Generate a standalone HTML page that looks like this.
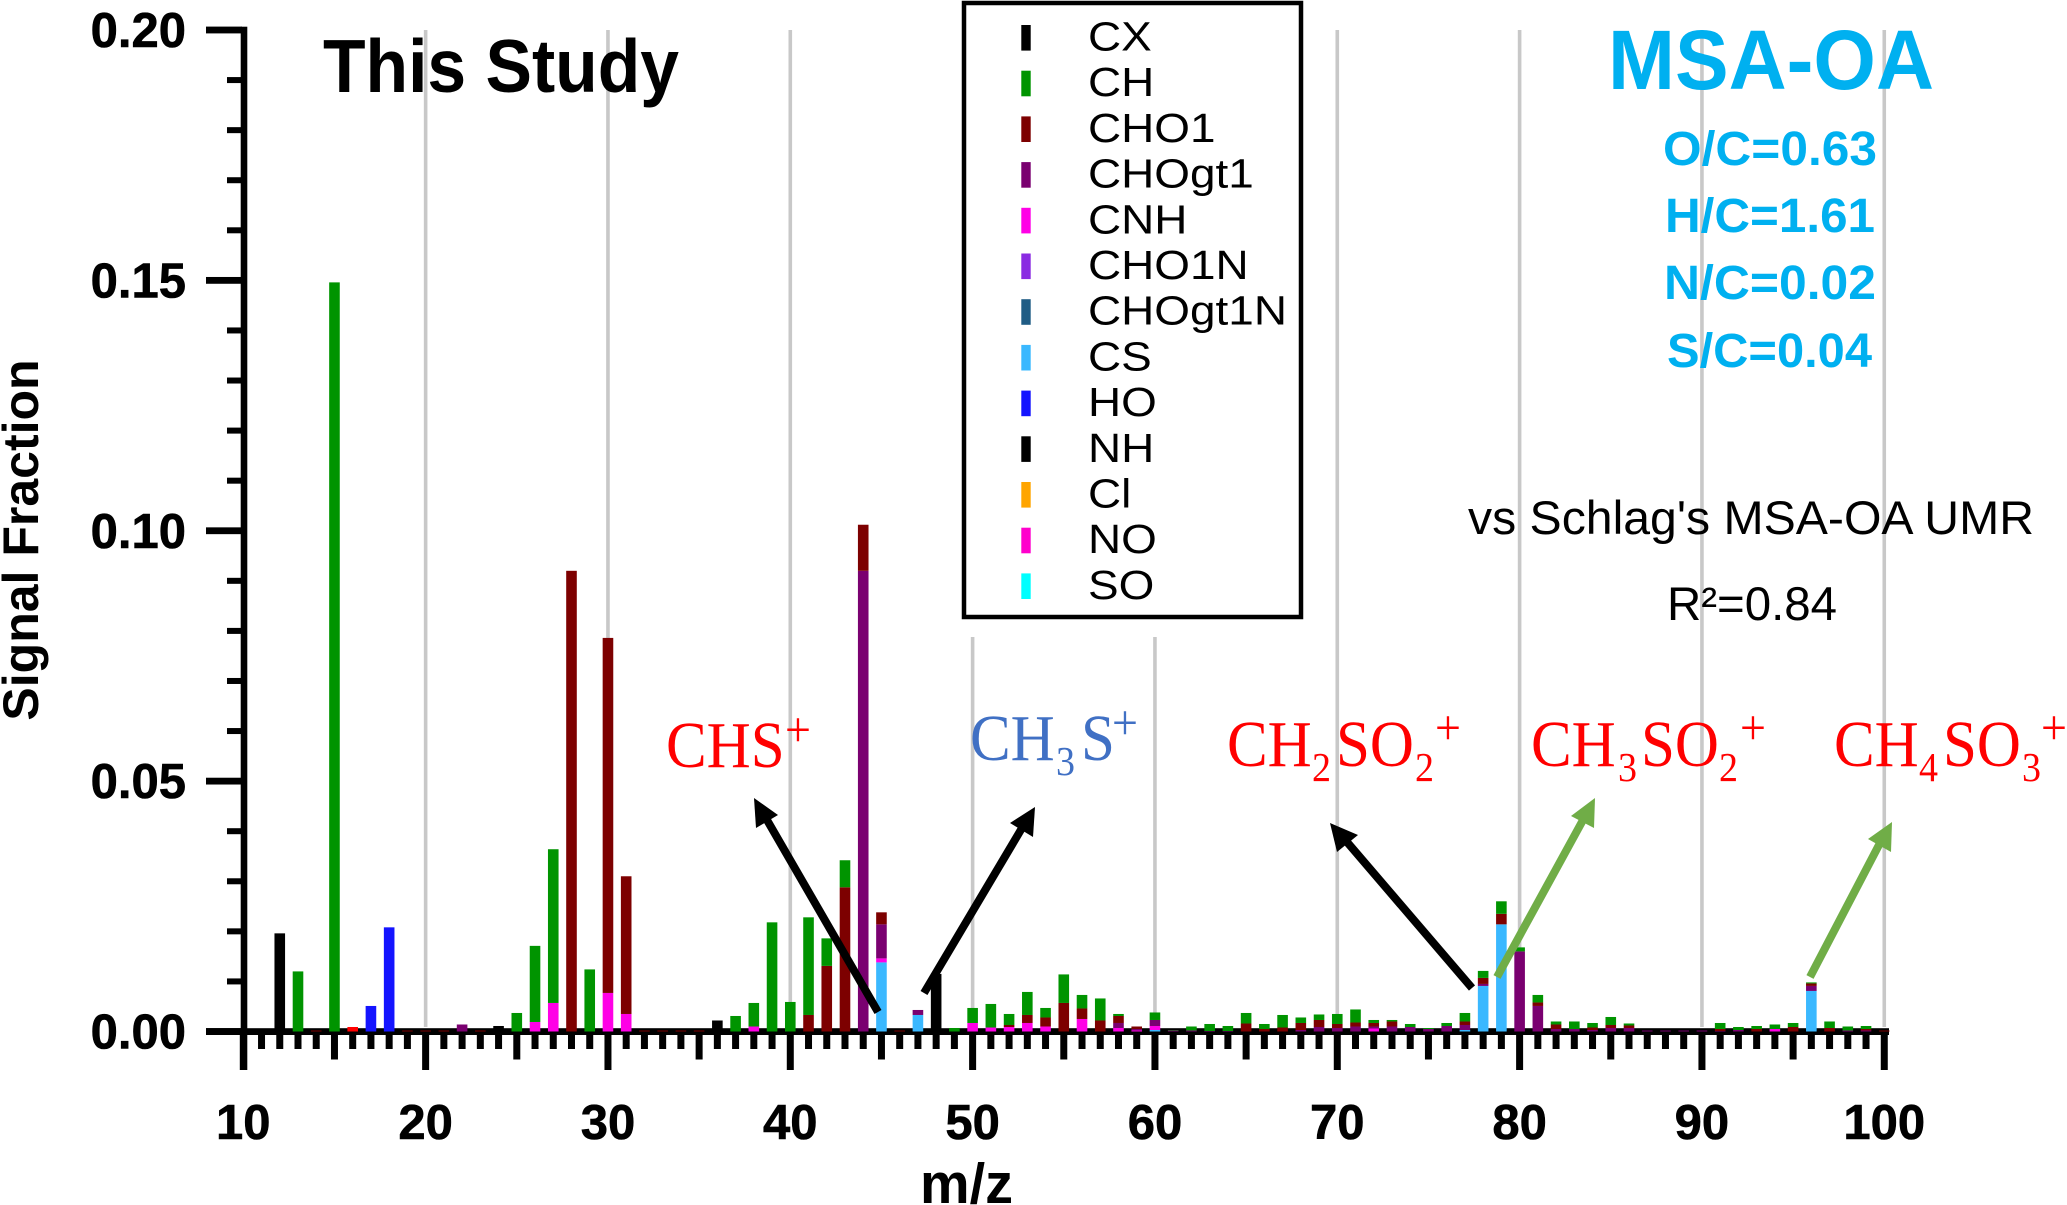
<!DOCTYPE html>
<html lang="en">
<head>
<meta charset="utf-8">
<title>MSA-OA mass spectrum</title>
<style>
html,body{margin:0;padding:0;background:#fff;}
svg{display:block;}
text{font-family:"Liberation Sans",sans-serif;}
.serif{font-family:"Liberation Serif",serif;}
.tick{font-weight:bold;font-size:49px;fill:#000;stroke:#000;stroke-width:0.6px;}
.cyan{font-weight:bold;fill:#00b0f0;}
</style>
</head>
<body>
<svg id="chart" xmlns="http://www.w3.org/2000/svg" width="2067" height="1205" viewBox="0 0 2067 1205">
  <rect x="0" y="0" width="2067" height="1205" fill="#fff"/>
  <g id="grid"></g>
  <g id="axes"></g>
  <g id="bars"></g>

  <text x="323" y="92" font-size="75" font-weight="bold" textLength="356" lengthAdjust="spacingAndGlyphs">This Study</text>
  <text transform="translate(38,540) rotate(-90)" text-anchor="middle" font-size="50" font-weight="bold">Signal Fraction</text>
  <text x="920" y="1203" font-size="57" font-weight="bold" textLength="93" lengthAdjust="spacingAndGlyphs">m/z</text>

  <g id="legend">
    <rect x="964" y="3" width="337" height="614" fill="#fff" stroke="#000" stroke-width="4.5"/>
  </g>

  <text class="cyan" x="1608" y="89" font-size="84" textLength="326" lengthAdjust="spacingAndGlyphs">MSA-OA</text>
  <text class="cyan" x="1663" y="165" font-size="48" textLength="214" lengthAdjust="spacingAndGlyphs">O/C=0.63</text>
  <text class="cyan" x="1665" y="232" font-size="48" textLength="210" lengthAdjust="spacingAndGlyphs">H/C=1.61</text>
  <text class="cyan" x="1664" y="299" font-size="48" textLength="212" lengthAdjust="spacingAndGlyphs">N/C=0.02</text>
  <text class="cyan" x="1667" y="367" font-size="48" textLength="205" lengthAdjust="spacingAndGlyphs">S/C=0.04</text>
  <text x="1468" y="534" font-size="47" textLength="566" lengthAdjust="spacingAndGlyphs">vs Schlag's MSA-OA UMR</text>
  <text x="1667" y="620" font-size="47" textLength="170" lengthAdjust="spacingAndGlyphs">R²=0.84</text>

  <g class="serif">
    <text class="serif" fill="#ff0000" font-size="61" transform="translate(0,767) scale(1,1.08) translate(0,-767)"><tspan x="666" y="767">CHS</tspan><tspan x="785" y="748" font-size="46">+</tspan></text>
    <text class="serif" fill="#4070c4" font-size="61" transform="translate(0,760) scale(1,1.08) translate(0,-760)"><tspan x="970" y="760">CH</tspan><tspan x="1056" y="774" font-size="38">3</tspan><tspan x="1081" y="760">S</tspan><tspan x="1112" y="741" font-size="46">+</tspan></text>
    <text class="serif" fill="#ff0000" font-size="61" transform="translate(0,766) scale(1,1.08) translate(0,-766)"><tspan x="1227" y="766">CH</tspan><tspan x="1312" y="780" font-size="38">2</tspan><tspan x="1336" y="766">SO</tspan><tspan x="1415" y="780" font-size="38">2</tspan><tspan x="1435" y="746" font-size="46">+</tspan></text>
    <text class="serif" fill="#ff0000" font-size="61" transform="translate(0,766) scale(1,1.08) translate(0,-766)"><tspan x="1531" y="766">CH</tspan><tspan x="1618" y="780" font-size="38">3</tspan><tspan x="1641" y="766">SO</tspan><tspan x="1719" y="780" font-size="38">2</tspan><tspan x="1740" y="746" font-size="46">+</tspan></text>
    <text class="serif" fill="#ff0000" font-size="61" transform="translate(0,766) scale(1,1.08) translate(0,-766)"><tspan x="1834" y="766">CH</tspan><tspan x="1919" y="780" font-size="38">4</tspan><tspan x="1943" y="766">SO</tspan><tspan x="2022" y="780" font-size="38">3</tspan><tspan x="2041" y="746" font-size="46">+</tspan></text>
  </g>

  <g>
    <line x1="878" y1="1012" x2="767" y2="820" stroke="#000" stroke-width="8"/>
    <polygon points="754,798 756,828 778,815" fill="#000"/>
  </g>
  <g>
    <line x1="924" y1="993" x2="1022" y2="828" stroke="#000" stroke-width="8"/>
    <polygon points="1035,807 1010,823 1033,837" fill="#000"/>
  </g>
  <g>
    <line x1="1472" y1="988" x2="1347" y2="842" stroke="#000" stroke-width="8"/>
    <polygon points="1330,823 1337,852 1358,835" fill="#000"/>
  </g>
  <g>
    <line x1="1497" y1="977" x2="1583" y2="820" stroke="#70ad47" stroke-width="8"/>
    <polygon points="1595,798 1571,816 1594,828" fill="#70ad47"/>
  </g>
  <g>
    <line x1="1810" y1="977" x2="1880" y2="843" stroke="#70ad47" stroke-width="8"/>
    <polygon points="1892,822 1868,839 1891,852" fill="#70ad47"/>
  </g>
</svg>

<script>
// m/z categories run from 10 to 100; every series array below has one value per m/z, rows by decade.
const mzStart = 10;
const cxValues = [
0,0,.0196,0,0,0,0,0,0,0,
0,0,0,0,.0011,0,0,0,0,0,
0,0,0,0,0,0,.0022,0,0,0,
0,0,0,0,0,0,0,0,0,0,
0,0,0,0,0,0,0,0,0,0,
0,0,0,0,0,0,0,0,0,0,
0,0,0,0,0,0,0,0,0,0,
0,0,0,0,0,0,0,0,0,0,
0,0,0,0,0,0,0,0,0,0,
0];
const nhValues = [
0,0,0,0,0,0,0,0,0,0,
0,0,0,0,0,0,0,0,0,0,
0,0,0,0,0,0,0,0,0,0,
0,0,0,0,0,0,0,0,.0115,0,
0,0,0,0,0,0,0,0,0,0,
0,0,0,0,0,0,0,0,0,0,
0,0,0,0,0,0,0,0,0,0,
0,0,0,0,0,0,0,0,0,0,
0,0,0,0,0,0,0,0,0,0,
0];
const csValues = [
0,0,0,0,0,0,0,0,0,0,
0,0,0,0,0,0,0,0,0,0,
0,0,0,0,0,0,0,0,0,0,
0,0,0,0,0,.0138,0,.0033,0,0,
0,0,0,0,0,0,0,0,0,0,
.0003,0,0,0,0,0,0,0,0,0,
0,0,0,0,0,0,0,.0003,.0091,.0214,
0,0,0,0,0,0,0,0,0,0,
0,0,0,0,0,0,.0081,0,0,0,
0];
const cnhValues = [
0,0,0,0,0,0,0,0,0,0,
0,0,0,0,0,0,.0019,.0057,0,0,
.0077,.0035,0,0,0,0,0,0,.0010,0,
0,0,0,0,0,.0008,0,0,0,0,
.0017,.0008,.0009,.0017,.0010,0,.0025,0,.0007,.0002,
.0008,0,0,0,0,0,0,0,0,0,
0,0,.0006,0,0,0,0,0,0,0,
0,0,0,0,0,0,0,0,0,0,
0,0,0,0,.0005,0,0,0,0,0,
0];
const chogt1Values = [
0,0,0,0,0,0,0,0,0,0,
0,0,.0014,0,0,0,0,0,0,0,
0,0,0,0,0,0,0,0,0,0,
0,0,0,0,.0920,.0068,0,.0010,0,0,
0,0,0,0,0,0,0,0,.0010,.0003,
.0012,.0002,.0002,.0001,.0001,0,0,0,.0003,.0009,
.0007,.0010,.0004,.0010,.0009,.0005,.0011,.0010,.0004,0,
.0160,.0051,.0005,.0005,.0003,.0007,.0007,.0002,.0002,.0002,
.0002,.0001,.0003,0,0,0,.0010,0,.0002,.0002,
0];
const cho1Values = [
0,0,0,0,.0002,0,0,0,0,.0002,
.0002,.0002,0,.0002,0,0,0,0,.0920,0,
.0709,.0275,.0002,.0002,.0002,.0002,0,0,0,0,
0,.0033,.0131,.0288,.0092,.0024,.0002,0,0,0,
0,0,.0004,.0016,.0018,.0057,.0021,.0022,.0014,.0005,
0,0,0,0,0,.0016,.0005,.0008,.0014,.0014,
.0008,.0008,.0007,.0010,0,0,0,.0007,.0012,.0021,
0,.0007,.0009,0,.0005,.0006,.0005,0,0,0,
0,.0004,0,.0005,0,.0009,.0005,.0007,0,.0003,
.0002];
const chValues = [
0,0,0,.0120,0,.1496,0,0,0,0,
0,0,0,0,0,.0037,.0152,.0307,0,.0124,
0,0,0,0,0,0,0,.0031,.0047,.0218,
.0059,.0195,.0055,.0054,0,0,0,0,0,.0007,
.0030,.0047,.0022,.0046,.0019,.0057,.0027,.0044,.0004,0,
.0015,.0001,.0008,.0014,.0010,.0021,.0010,.0025,.0011,.0011,
.0020,.0026,.0006,.0003,.0006,.0002,.0006,.0017,.0014,.0025,
.0008,.0015,.0006,.0015,.0009,.0016,.0004,0,0,0,
0,.0012,.0006,.0006,.0009,.0008,.0002,.0013,.0008,.0006,
0];
const hoValues = [
0,0,0,0,0,0,0,.0051,.0208,0,
0,0,0,0,0,0,0,0,0,0,
0,0,0,0,0,0,0,0,0,0,
0,0,0,0,0,0,0,0,0,0,
0,0,0,0,0,0,0,0,0,0,
0,0,0,0,0,0,0,0,0,0,
0,0,0,0,0,0,0,0,0,0,
0,0,0,0,0,0,0,0,0,0,
0,0,0,0,0,0,0,0,0,0,
0];
const oValues = [
0,0,0,0,0,0,.0009,0,0,0,
0,0,0,0,0,0,0,0,0,0,
0,0,0,0,0,0,0,0,0,0,
0,0,0,0,0,0,0,0,0,0,
0,0,0,0,0,0,0,0,0,0,
0,0,0,0,0,0,0,0,0,0,
0,0,0,0,0,0,0,0,0,0,
0,0,0,0,0,0,0,0,0,0,
0,0,0,0,0,0,0,0,0,0,
0];
const yTickLabels = ['0.00','0.05','0.10','0.15','0.20'];
const xTickLabels = ['10','20','30','40','50','60','70','80','90','100'];
const gridMz = [20,30,40,50,60,70,80,90,100];
const legendNames = ['CX','CH','CHO1','CHOgt1','CNH','CHO1N','CHOgt1N','CS','HO','NH','Cl','NO','SO'];
const legendColors = ['#000000','#009400','#7d0000','#7a0070','#ff00e6','#8a2be2','#1f5c85','#3ab8ff','#1414ff','#000000','#ffa500','#ff00cc','#00ffff'];

// Bottom-to-top stacking order.
const stackSeries = [
  {name:'cx', values:cxValues, color:'#000000'},
  {name:'nh', values:nhValues, color:'#000000'},
  {name:'cs', values:csValues, color:'#3ab8ff'},
  {name:'cnh', values:cnhValues, color:'#ff00e6'},
  {name:'chogt1', values:chogt1Values, color:'#7a0070'},
  {name:'cho1', values:cho1Values, color:'#7d0000'},
  {name:'ch', values:chValues, color:'#009400'},
  {name:'ho', values:hoValues, color:'#1414ff'},
  {name:'o', values:oValues, color:'#ff0000'}
];

const SVGNS = 'http://www.w3.org/2000/svg';
function xScale(mz){ return 243.3 + (mz - 10) * 18.233; }
function yScale(v){ return 1031.5 - v * 5007.5; }
function make(parent, tag, attrs){
  const el = document.createElementNS(SVGNS, tag);
  for (const k in attrs) el.setAttribute(k, attrs[k]);
  parent.appendChild(el);
  return el;
}

const gridG = document.getElementById('grid');
const axesG = document.getElementById('axes');
const barsG = document.getElementById('bars');
const legendG = document.getElementById('legend');

gridMz.forEach(function(mz){
  const top = (mz === 50 || mz === 60) ? 637 : 30;
  const el = make(gridG, 'line', {x1:xScale(mz), x2:xScale(mz), y1:top, y2:1027, stroke:'#c8c8c8', 'stroke-width':3.6});
  
  
});

// axis lines
const yAxisLine = make(axesG, 'rect', {x:240.7, y:26.7, width:6.6, height:1043.3, fill:'#000'});


const xAxisLine = make(axesG, 'rect', {x:206, y:1028.2, width:1683, height:6.8, fill:'#000'});



// y ticks
for (let i = 0; i <= 20; i++){
  const v = i * 0.01;
  const major = i % 5 === 0;
  const t = make(axesG, 'rect', {x: major ? 206 : 227, y: yScale(v) - (major ? 3.4 : 3), width: major ? 36 : 15, height: major ? 6.8 : 6, fill:'#000'});
  
  
}
yTickLabels.forEach(function(label){
  const t = make(axesG, 'text', {x:186, y:yScale(parseFloat(label)) + 17, 'text-anchor':'end', class:'tick'});
  t.textContent = label;
  
  
});

// x ticks
for (let mz = 10; mz <= 100; mz++){
  const bottom = mz % 10 === 0 ? 1070 : (mz % 5 === 0 ? 1059.5 : 1049);
  const t = make(axesG, 'rect', {x:xScale(mz) - 3.5, y:1034, width:7, height:bottom - 1034, fill:'#000'});
  
  
}
xTickLabels.forEach(function(label){
  const t = make(axesG, 'text', {x:xScale(parseFloat(label)), y:1139, 'text-anchor':'middle', class:'tick'});
  t.textContent = label;
  
  
});

// bars
const barCount = chValues.length;
for (let i = 0; i < barCount; i++){
  const mz = mzStart + i;
  let cum = 0;
  stackSeries.forEach(function(s){
    const v = s.values[i];
    if (!v) return;
    const y1 = yScale(cum + v);
    const y0 = yScale(cum);
    const r = make(barsG, 'rect', {x:xScale(mz) - 5.3, y:y1, width:10.6, height:y0 - y1, fill:s.color});
    
    
    cum += v;
  });
}

// legend
legendNames.forEach(function(name, i){
  const sw = make(legendG, 'rect', {x:1021.3, y:25 + i * 45.7, width:9.4, height:25.6, fill:legendColors[i]});
  
  
  const t = make(legendG, 'text', {transform:'translate(1088,' + (50.5 + i * 45.7) + ') scale(1.12,1)', 'font-size':41, fill:'#000'});
  t.textContent = name;
  
  
});
</script>
</body>
</html>
